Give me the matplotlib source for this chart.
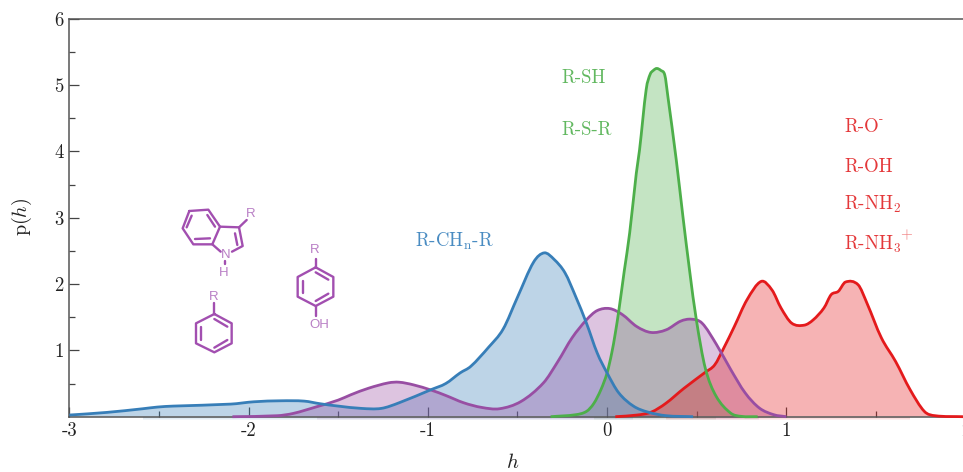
import matplotlib
matplotlib.use("Agg")
import matplotlib.pyplot as plt
from matplotlib.path import Path
from matplotlib.patches import PathPatch

plt.rcParams['font.family'] = ['cmr10', 'DejaVu Sans']
plt.rcParams['mathtext.fontset'] = 'cm'
plt.rcParams['axes.unicode_minus'] = False
plt.rcParams['axes.formatter.use_mathtext'] = True

# ---------- data ----------
blue_h = [-3.0, -2.79, -2.59, -2.51, -2.42, -2.1, -1.97, -1.82, -1.69, -1.6, -1.5, -1.37, -1.26, -1.16,
          -0.98, -0.9, -0.82, -0.76, -0.66, -0.58, -0.5, -0.41, -0.35, -0.295, -0.235, -0.175, -0.115,
          -0.055, 0.0, 0.065, 0.147, 0.227, 0.33, 0.48]
blue_p = [0.025, 0.065, 0.12, 0.145, 0.16, 0.19, 0.225, 0.24, 0.235, 0.195, 0.16, 0.125, 0.125, 0.21,
          0.41, 0.50, 0.66, 0.76, 1.05, 1.32, 1.80, 2.33, 2.47, 2.37, 2.17, 1.81, 1.41,
          0.96, 0.66, 0.36, 0.16, 0.07, 0.015, 0.0]

purple_h = [-2.09, -1.84, -1.75, -1.62, -1.5, -1.43, -1.33, -1.22, -1.16, -1.08, -0.98, -0.9, -0.8, -0.7,
            -0.6, -0.48, -0.355, -0.275, -0.195, -0.115, -0.055, 0.015, 0.085, 0.165, 0.245, 0.33, 0.41,
            0.47, 0.53, 0.61, 0.69, 0.77, 0.85, 0.93, 1.0]
purple_p = [0.0, 0.015, 0.05, 0.15, 0.25, 0.33, 0.43, 0.51, 0.52, 0.48, 0.40, 0.32, 0.21, 0.14,
            0.12, 0.23, 0.51, 0.83, 1.19, 1.46, 1.6, 1.63, 1.54, 1.36, 1.27, 1.31, 1.44,
            1.47, 1.41, 1.09, 0.71, 0.36, 0.13, 0.03, 0.0]

green_h = [-0.315, -0.175, -0.115, -0.074, -0.034, 0.0, 0.026, 0.046, 0.066, 0.096, 0.126, 0.163, 0.181,
           0.218, 0.24, 0.258, 0.277, 0.30, 0.322, 0.339, 0.386, 0.423, 0.46, 0.498, 0.548, 0.608,
           0.689, 0.749, 0.84]
green_p = [0.0, 0.03, 0.08, 0.2, 0.41, 0.66, 0.96, 1.26, 1.61, 2.2, 2.77, 3.67, 4.02,
           4.93, 5.16, 5.22, 5.25, 5.22, 5.15, 4.83, 3.87, 3.02, 2.21, 1.46, 0.73, 0.31,
           0.055, 0.005, 0.0]

red_h = [0.046, 0.167, 0.247, 0.327, 0.43, 0.548, 0.6, 0.65, 0.71, 0.78, 0.86, 0.92, 0.97, 1.03, 1.1,
         1.15, 1.21, 1.25, 1.29, 1.33, 1.40, 1.45, 1.53, 1.61, 1.69, 1.77, 1.83, 1.99]
red_p = [0.0, 0.025, 0.07, 0.2, 0.43, 0.67, 0.78, 1.03, 1.36, 1.76, 2.04, 1.91, 1.64, 1.41, 1.38,
         1.46, 1.64, 1.84, 1.89, 2.03, 1.99, 1.71, 1.19, 0.83, 0.41, 0.08, 0.015, 0.0]

x_ticks = [-3, -2, -1, 0, 1, 2]
x_labels = ['-3', '-2', '-1', '0', '1', '2']
y_ticks = [1, 2, 3, 4, 5, 6]
y_labels = ['1', '2', '3', '4', '5', '6']

BLUE, PURPLE, GREEN, RED = '#377eb8', '#984ea3', '#4daf4a', '#e41a1c'
AX = '#444444'
W, H = 963, 472

fig = plt.figure(figsize=(W / 100, H / 100), dpi=100)
L, R, T, B = 69.3, 965.6, 18.7, 416.7
ax = fig.add_axes([L / W, 1 - B / H, (R - L) / W, (B - T) / H])


def smooth_path(h, p, close=False):
    """Catmull-Rom style Bezier path through the read points."""
    verts = [(h[0], p[0])]
    codes = [Path.MOVETO]
    n = len(h)
    for i in range(n - 1):
        a = max(i - 1, 0)
        d = min(i + 2, n - 1)
        dx = h[i + 1] - h[i]
        m1 = (p[i + 1] - p[a]) / (h[i + 1] - h[a])
        m2 = (p[d] - p[i]) / (h[d] - h[i])
        verts += [(h[i] + dx / 3, p[i] + m1 * dx / 3),
                  (h[i + 1] - dx / 3, p[i + 1] - m2 * dx / 3),
                  (h[i + 1], p[i + 1])]
        codes += [Path.CURVE4] * 3
    if close:
        verts += [(h[-1], 0), (h[0], 0), (h[0], 0)]
        codes += [Path.LINETO, Path.LINETO, Path.CLOSEPOLY]
    return Path(verts, codes)


# fills: stacking order
for h, p, c in [(green_h, green_p, GREEN), (blue_h, blue_p, BLUE),
                (purple_h, purple_p, PURPLE), (red_h, red_p, RED)]:
    ax.add_patch(PathPatch(smooth_path(h, p, True), facecolor=c, alpha=0.33, lw=0, zorder=2))
    # soft fade just under the baseline
    for depth in (0.016, 0.032, 0.05):
        ax.fill_between(h, 0, -depth, where=[v > 0.1 for v in p], color=c, alpha=0.07, lw=0,
                        zorder=1.5, clip_on=False)
for z, (h, p, c) in enumerate([(red_h, red_p, RED), (purple_h, purple_p, PURPLE),
                               (green_h, green_p, GREEN), (blue_h, blue_p, BLUE)]):
    ax.add_patch(PathPatch(smooth_path(h, p), facecolor='none', edgecolor=c, lw=2.0,
                           joinstyle='round', capstyle='butt', zorder=3 + z * 0.1, clip_on=False))

ax.set_xlim(-3, 2)
ax.set_ylim(0, 6)
ax.set_xticks(x_ticks, x_labels)
ax.set_yticks(y_ticks, y_labels)
ax.set_xticks([-2.5, -1.5, -0.5, 0.5, 1.5], minor=True)
ax.set_yticks([0.5, 1.5, 2.5, 3.5, 4.5, 5.5], minor=True)
ax.tick_params(which='major', direction='in', length=7.5, width=0.9, color=AX,
               labelsize=13.5, labelcolor='#222222', pad=4)
ax.tick_params(which='minor', direction='in', length=4, width=0.9, color=AX)
for s in ('left', 'bottom', 'top'):
    ax.spines[s].set_color('#555555')
    ax.spines[s].set_linewidth(1.1)
ax.spines['right'].set_visible(False)
fig.text(513 / W, 1 - 463 / H, r'$h$', fontsize=15, ha='center', va='center', color='#222222')
fig.text(22 / W, 1 - 217 / H, r'p($h$)', fontsize=14.5, rotation=90, ha='center', va='center', color='#222222')

# overlay in pixel coordinates for annotations and molecule sketches
ov = fig.add_axes([0, 0, 1, 1], facecolor='none')
ov.set_xlim(0, W)
ov.set_ylim(H, 0)
ov.axis('off')

LBL = 13.5
GT, RT, BT = '#62b860', '#e4383a', '#4a8cc2'
for s, x, y, c in [('R-SH', 561, 83, GT), ('R-S-R', 561, 135, GT),
                   ('R-O', 844, 132, RT), ('R-OH', 844, 172, RT),
                   (r'R-NH$_{2}$', 844, 210, RT), (r'R-NH$_{3}$', 844, 250, RT),
                   (r'R-CH$_{\mathrm{n}}$-R', 415, 247, BT)]:
    ov.text(x, y, s, fontsize=LBL, color=c, ha='left', va='baseline')
ov.text(881, 119, '-', fontsize=9, color=RT, ha='center', va='center')
ov.text(906, 234, '+', fontsize=11, color='#f07a7b', ha='center', va='center')

MOL = '#a24fb0'
MTXT = '#b97fc5'


def px(zx, zy):
    return 170 + zx / 3, 195 + zy / 3


def seg(*pts, lw=1.7):
    xs, ys = zip(*[px(*p) for p in pts])
    ov.plot(xs, ys, color=MOL, lw=lw, solid_capstyle='round', solid_joinstyle='round')


def lab(zx, zy, s):
    x, y = px(zx, zy)
    ov.text(x, y, s, color=MTXT, fontsize=9.5, family='Liberation Sans', ha='center', va='center')


# phenol
seg((437, 217), (490, 246), (490, 305), (437, 333), (383, 305), (383, 246), (437, 217))
seg((398, 257), (398, 294)); seg((437, 232), (475, 254)); seg((437, 318), (475, 296))
seg((437, 217), (437, 192)); seg((437, 333), (437, 362))
lab(433, 165, 'R'); lab(447, 391, 'OH')
# benzene
seg((133, 357), (185, 385), (185, 445), (133, 472), (78, 445), (78, 385), (133, 357))
seg((92, 397), (92, 435)); seg((133, 372), (172, 395)); seg((133, 458), (172, 435))
seg((133, 357), (133, 325))
lab(130, 305, 'R')
# indole
seg((58, 48), (115, 44), (150, 95), (127, 148), (70, 148), (38, 100), (58, 48))
seg((150, 95), (207, 97), (218, 153), (186, 170))
seg((127, 148), (152, 170))
seg((65, 62), (50, 97)); seg((112, 60), (135, 95)); seg((75, 132), (120, 130)); seg((195, 115), (202, 150))
seg((207, 97), (230, 75)); seg((165, 198), (165, 207))
lab(242, 58, 'R'); lab(167, 180, 'N'); lab(160, 235, 'H')

fig.savefig('out.png', dpi=100)
